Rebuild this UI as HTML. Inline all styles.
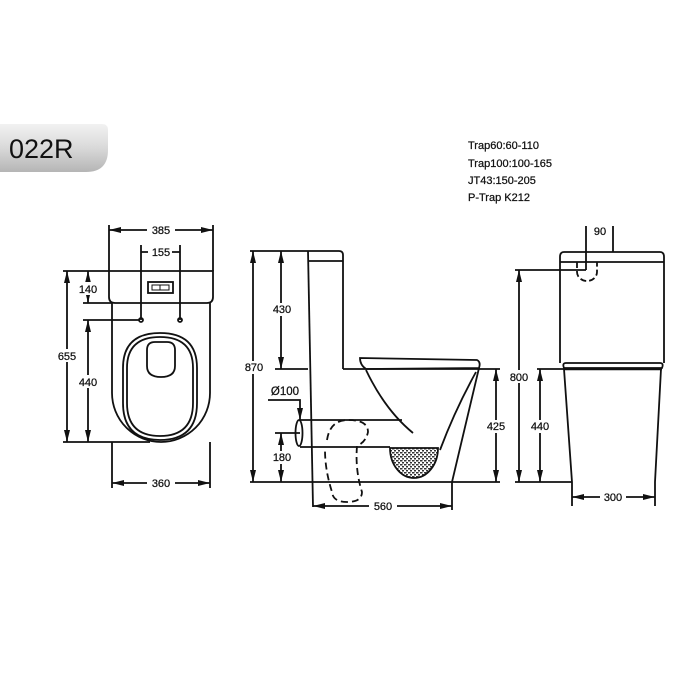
<!DOCTYPE html>
<html><head><meta charset="utf-8"><style>
html,body{margin:0;padding:0;background:#fff;width:700px;height:700px;overflow:hidden}
svg text{font-family:"Liberation Sans",Arial,sans-serif;fill:#111;stroke:#111;stroke-width:0.25}
</style></head><body>
<svg width="700" height="700" viewBox="0 0 700 700" xmlns="http://www.w3.org/2000/svg">
<defs>
<linearGradient id="bg" x1="0" y1="0" x2="0" y2="1">
<stop offset="0" stop-color="#f2f2f2"/><stop offset="0.5" stop-color="#d9d9d9"/><stop offset="1" stop-color="#b5b5b5"/>
</linearGradient>
<marker id="a" viewBox="0 0 12 6" refX="12" refY="3" markerWidth="12" markerHeight="6" orient="auto-start-reverse" markerUnits="userSpaceOnUse">
<path d="M0,0 L12,3 L0,6 z" fill="#111"/></marker>
<pattern id="h" width="4" height="4" patternUnits="userSpaceOnUse">
<rect width="4" height="4" fill="#fff"/><rect x="0" y="0" width="2.5" height="1.5" fill="#333"/><rect x="2" y="2" width="2.5" height="1.5" fill="#333"/></pattern>
</defs>
<path d="M0,124 H102 Q108,124 108,130 V150 Q108,172 86,172 H0 Z" fill="url(#bg)"/>
<text x="9" y="158" font-size="27" style="stroke-width:0">022R</text>
<g font-size="11">
<text x="468" y="149">Trap60:60-110</text>
<text x="468" y="167">Trap100:100-165</text>
<text x="468" y="184">JT43:150-205</text>
<text x="468" y="201">P-Trap K212</text>
</g>
<g stroke="#111" stroke-width="1.8" fill="none">
<path d="M109,225 V271 M213,225 V271"/>
<path d="M141,245 V320 M180,245 V320"/>
<path d="M109,271 H213 V297 Q213,303 207,303 H115 Q109,303 109,297 Z"/>
<path d="M63,271 H109"/>
<rect x="148" y="282" width="25" height="11"/>
<path d="M152,285 H169 V290 H152 Z M160,285 V290" stroke-width="1"/>
<path d="M112,303 V393 A49,49 0 0 0 210,393 V303"/>
<path d="M123,368 Q123,333 160,333 Q197,333 197,368 V403 Q197,440 160,440 Q123,440 123,403 Z"/>
<path d="M127,368 Q127,337 160,337 Q193,337 193,368 V403 Q193,436 160,436 Q127,436 127,403 Z"/>
<path d="M147,350 Q147,342 155,342 H167 Q175,342 175,350 V366 Q175,377 161,377 Q147,377 147,366 Z"/>
<circle cx="141" cy="320" r="2"/><circle cx="180" cy="320" r="2"/>
<path d="M83,303 H112 M83,320 H139 M63,442 H150"/>
<path d="M112,442 V488 M210,442 V488"/>
</g>
<g stroke="#111" stroke-width="1.8" fill="none">
<line x1="67" y1="271" x2="67" y2="442" marker-start="url(#a)" marker-end="url(#a)"/>
<line x1="88" y1="271" x2="88" y2="303" marker-start="url(#a)" marker-end="url(#a)"/>
<line x1="88" y1="320" x2="88" y2="442" marker-start="url(#a)" marker-end="url(#a)"/>
<line x1="109" y1="230" x2="213" y2="230" marker-start="url(#a)" marker-end="url(#a)"/>
<line x1="112" y1="483" x2="210" y2="483" marker-start="url(#a)" marker-end="url(#a)"/>
<path d="M141,252 H148 M172,252 H180"/>
</g>
<g font-size="11" text-anchor="middle">
<rect x="147" y="223" width="28" height="13" fill="#fff"/><text x="161" y="234">385</text>
<text x="161" y="256">155</text>
<rect x="55" y="349" width="24" height="13" fill="#fff"/><text x="67" y="360">655</text>
<rect x="77" y="282" width="22" height="13" fill="#fff"/><text x="88" y="293">140</text>
<rect x="77" y="375" width="22" height="13" fill="#fff"/><text x="88" y="386">440</text>
<rect x="147" y="476" width="28" height="13" fill="#fff"/><text x="161" y="487">360</text>
</g>
<g stroke="#111" stroke-width="1.8" fill="none">
<path d="M308,251 H339 Q343,251 343,255 V369"/>
<path d="M308,261 H343"/>
<path d="M308,251 L313,507"/>
<path d="M250,251 H308"/>
<path d="M275,369 H308 M343,369 H500"/>
<path d="M250,482 H500"/>
<path d="M360,358 L477,360 Q481,362 479,368 L366,369 Q360,365 360,358 Z"/>
<path d="M479,368 L452,482 V510"/>
<path d="M366,370 Q385,410 413,433"/>
<path d="M476,372 Q455,410 440,450"/>
<path d="M390,448 A24,30 0 0 0 438,448 Z" fill="url(#h)"/>
<ellipse cx="299" cy="433" rx="3.5" ry="13"/>
<path d="M300,420 H402 M275,433 H300 M300,447 H390"/>
<path d="M327,440 Q330,420 348,420 Q368,420 368,432 Q366,442 357,446 Q355,470 362,492 Q362,502 347,502 Q333,502 332,492 Q325,470 325,450" stroke-dasharray="7,4"/>
<path d="M268,400 H300 V412"/>
</g>
<g stroke="#111" stroke-width="1.8" fill="none">
<line x1="253" y1="251" x2="253" y2="482" marker-start="url(#a)" marker-end="url(#a)"/>
<line x1="281" y1="251" x2="281" y2="369" marker-start="url(#a)" marker-end="url(#a)"/>
<line x1="281" y1="433" x2="281" y2="482" marker-start="url(#a)" marker-end="url(#a)"/>
<line x1="496" y1="369" x2="496" y2="482" marker-start="url(#a)" marker-end="url(#a)"/>
<line x1="313" y1="506" x2="452" y2="506" marker-start="url(#a)" marker-end="url(#a)"/>
<line x1="300" y1="408" x2="300" y2="420" marker-end="url(#a)"/>
</g>
<g font-size="11" text-anchor="middle">
<rect x="242" y="361" width="24" height="13" fill="#fff"/><text x="254" y="371">870</text>
<rect x="270" y="303" width="24" height="13" fill="#fff"/><text x="282" y="313">430</text>
<rect x="270" y="451" width="24" height="13" fill="#fff"/><text x="282" y="461">180</text>
<rect x="484" y="420" width="24" height="13" fill="#fff"/><text x="496" y="430">425</text>
<rect x="369" y="499" width="28" height="13" fill="#fff"/><text x="383" y="510">560</text>
<text x="285" y="395" font-size="11.5">Ø100</text>
</g>
<g stroke="#111" stroke-width="1.8" fill="none">
<path d="M586,226 V270 M613,226 V252"/>
<path d="M564,252 H660 Q664,252 664,257 V363 M564,252 Q560,252 560,257 V363"/>
<path d="M560,262 H664"/>
<path d="M577,262 V272 A10,9 0 0 0 597,272 V262" stroke-dasharray="6,3"/>
<path d="M566,363 H660 Q664,363 662,368 H564 Q562,363 566,363 Z"/>
<path d="M564,369 H662" stroke-width="2.6"/>
<path d="M564,369 L572,482 V506 M661,369 L655,482 V506"/>
<path d="M515,482 H572 M515,270 H586 M537,369 H564"/>
</g>
<g stroke="#111" stroke-width="1.8" fill="none">
<line x1="519" y1="270" x2="519" y2="482" marker-start="url(#a)" marker-end="url(#a)"/>
<line x1="540" y1="369" x2="540" y2="482" marker-start="url(#a)" marker-end="url(#a)"/>
<line x1="572" y1="497" x2="655" y2="497" marker-start="url(#a)" marker-end="url(#a)"/>
</g>
<g font-size="11" text-anchor="middle">
<text x="600" y="235">90</text>
<rect x="507" y="370" width="24" height="13" fill="#fff"/><text x="519" y="381">800</text>
<rect x="528" y="420" width="24" height="13" fill="#fff"/><text x="540" y="430">440</text>
<rect x="600" y="490" width="26" height="13" fill="#fff"/><text x="613" y="501">300</text>
</g>
</svg>
</body></html>
